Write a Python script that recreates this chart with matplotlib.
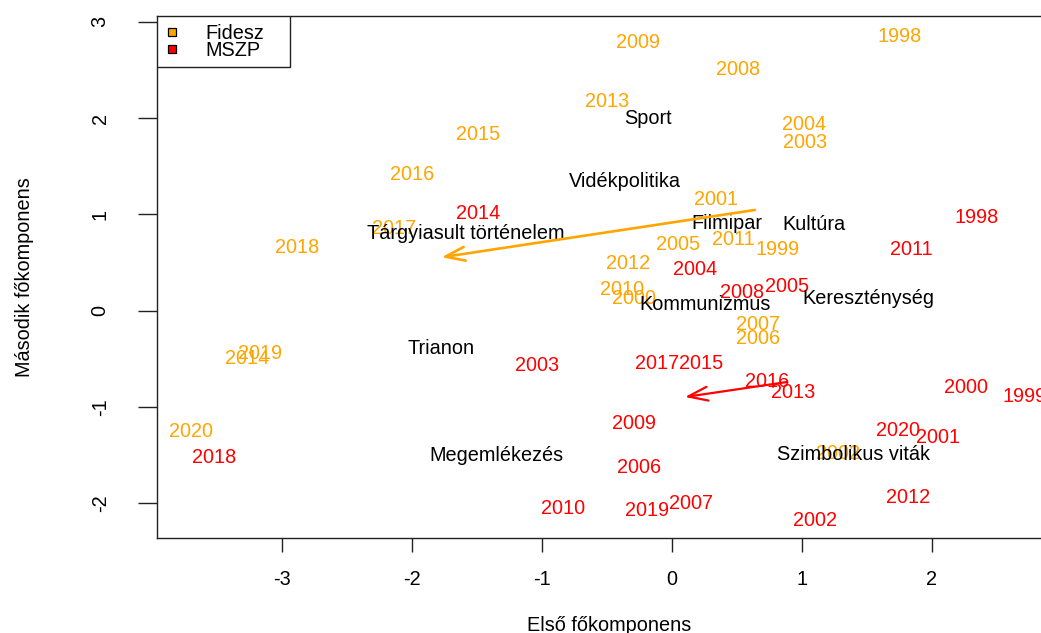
import matplotlib
matplotlib.use("Agg")
import matplotlib.pyplot as plt
from matplotlib.transforms import offset_copy
from matplotlib.patches import Rectangle
from matplotlib.lines import Line2D

plt.rcParams['font.family'] = ['Liberation Sans', 'DejaVu Sans']

# ---- data ----
fidesz_years = ["1998", "1999", "2000", "2001", "2002", "2003", "2004", "2005",
                "2006", "2007", "2008", "2009", "2010", "2011", "2012", "2013",
                "2014", "2015", "2016", "2017", "2018", "2019", "2020"]
fidesz_pc1 = [1.757, 0.818, -0.290, 0.341, 1.282, 1.025, 1.018, 0.048,
              0.662, 0.666, 0.510, -0.259, -0.382, 0.472, -0.336, -0.498,
              -3.269, -1.488, -2.000, -2.134, -2.885, -3.167, -3.698]
fidesz_pc2 = [2.863, 0.651, 0.142, 1.170, -1.464, 1.762, 1.949, 0.703,
              -0.270, -0.131, 2.520, 2.801, 0.236, 0.755, 0.506, 2.188,
              -0.478, 1.848, 1.433, 0.872, 0.672, -0.426, -1.239]

mszp_years = ["1998", "1999", "2000", "2001", "2002", "2003", "2004", "2005",
              "2006", "2007", "2008", "2009", "2010", "2011", "2012", "2013",
              "2014", "2015", "2016", "2017", "2018", "2019", "2020"]
mszp_pc1 = [2.348, 2.715, 2.262, 2.051, 1.102, -1.034, 0.179, 0.885,
            -0.252, 0.148, 0.538, -0.288, -0.834, 1.846, 1.820, 0.935,
            -1.488, 0.223, 0.735, -0.111, -3.518, -0.192, 1.738]
mszp_pc2 = [0.987, -0.875, -0.782, -1.301, -2.163, -0.553, 0.447, 0.267,
            -1.610, -1.983, 0.208, -1.153, -2.042, 0.654, -1.921, -0.831,
            1.022, -0.530, -0.720, -0.530, -1.509, -2.062, -1.232]

topics = ["Sport", "Vidékpolitika", "Filmipar", "Kultúra", "Tárgyiasult történelem",
          "Kommunizmus", "Kereszténység", "Trianon", "Megemlékezés", "Szimbolikus viták"]
topic_pc1 = [-0.185, -0.359, 0.423, 1.095, -1.584, 0.256, 1.512, -1.775, -1.352, 1.397]
topic_pc2 = [2.015, 1.355, 0.918, 0.908, 0.814, 0.083, 0.145, -0.380, -1.488, -1.475]

# trend arrows (start -> end)
fidesz_arrow = [(0.64, 1.046), (-1.77, 0.555)]
mszp_arrow = [(0.887, -0.74), (0.102, -0.896)]

party_labels = ["Fidesz", "MSZP"]
party_colors = ["#FFA500", "#FF0000"]

xticks = [-3, -2, -1, 0, 1, 2]
yticks = [-2, -1, 0, 1, 2, 3]

# ---- figure ----
W, H = 1041, 633
fig = plt.figure(figsize=(W / 100, H / 100), dpi=100)
ax = fig.add_axes([157.3 / W, 1 - 538.3 / H, 904.4 / W, 522.3 / H])
ax.set_xlim(-3.957, 3.0)
ax.set_ylim(-2.363, 3.06)

FS = 14.3
cap = 0.716 * FS
trans = offset_copy(ax.transData, fig=fig, x=0, y=-cap / 2, units='points')

for lbl, x, y in zip(fidesz_years, fidesz_pc1, fidesz_pc2):
    ax.text(x, y, lbl, color=party_colors[0], fontsize=FS, ha='center',
            va='baseline', transform=trans, clip_on=True)
for lbl, x, y in zip(mszp_years, mszp_pc1, mszp_pc2):
    ax.text(x, y, lbl, color=party_colors[1], fontsize=FS, ha='center',
            va='baseline', transform=trans, clip_on=True)
for lbl, x, y in zip(topics, topic_pc1, topic_pc2):
    ax.text(x, y, lbl, color='black', fontsize=FS, ha='center',
            va='baseline', transform=trans, clip_on=True)

for arr, col, lw in [(fidesz_arrow, party_colors[0], 1.9), (mszp_arrow, party_colors[1], 1.6)]:
    ax.annotate('', xy=arr[1], xytext=arr[0],
                arrowprops=dict(arrowstyle='->,head_length=1.4,head_width=0.5',
                                color=col, lw=lw, shrinkA=0, shrinkB=0,
                                mutation_scale=10))

# axes styling
for s in ax.spines.values():
    s.set_linewidth(1.0)
    s.set_color('#222222')
ax.set_xticks(xticks, [str(t) for t in xticks], va='baseline', fontsize=FS)
ax.set_yticks(yticks, [str(t) for t in yticks], fontsize=FS)
ax.tick_params(axis='x', length=10, width=1.0, pad=23.6, colors='#222222', labelcolor='black')
ax.tick_params(axis='y', length=13.7, width=1.0, pad=23.5, colors='#222222', labelcolor='black')
for lab in ax.get_yticklabels():
    lab.set_rotation(90)
    lab.set_rotation_mode('anchor')
    lab.set_ha('center')
    lab.set_va('baseline')

fig.text(609.5 / W, 1 - 630.7 / H, "Első főkomponens", fontsize=FS,
         ha='center', va='baseline')
fig.text(30.5 / W, 1 - 277.2 / H, "Második főkomponens", fontsize=FS,
         rotation=90, rotation_mode='anchor', ha='center', va='baseline')

# legend (R style, top-left)
ax.add_patch(Rectangle((0, 0.9024), 0.1467, 0.0976, transform=ax.transAxes,
                       facecolor='white', edgecolor='#222222', lw=1.0, zorder=5))
leg_y = [0.9700, 0.9375]
for lbl, col, yy in zip(party_labels, party_colors, leg_y):
    ax.add_line(Line2D([0.01659], [yy], transform=ax.transAxes, marker='s',
                       markersize=5.8, markerfacecolor=col, markeredgecolor='black',
                       markeredgewidth=0.9, linestyle='none', zorder=6))
    ax.text(0.0527, yy, lbl, fontsize=FS, ha='left', va='baseline', zorder=6,
            transform=offset_copy(ax.transAxes, fig=fig, x=0, y=-cap / 2, units='points'))

fig.savefig("out.png", dpi=100)
